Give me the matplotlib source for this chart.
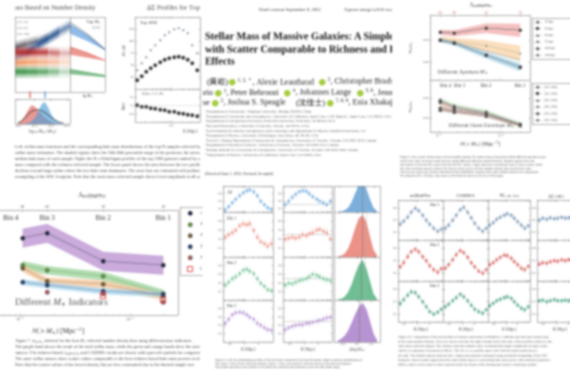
import io
import numpy as np
import matplotlib
matplotlib.use("Agg")
import matplotlib.pyplot as plt
from matplotlib.ticker import NullFormatter, NullLocator

# ---- number-density bins shared by the two scatter figures
N_BINS = [1.05e-5, 1.76e-5, 5.7e-5, 2.0e-4]
BIN_NAMES = ['Bin 4', 'Bin 3', 'Bin 2', 'Bin 1']
LAMBDA_TICKS = ['60', '40', '20', '10']

# sigma(log Mvir) for different M* indicators (bottom-left figure)
D_PURPLE = [0.617, 0.640, 0.507, 0.488]
D_GREEN = [0.488, 0.464, 0.436, 0.352]
D_ORANGE = [0.474, 0.412, 0.398, 0.340]
D_BLUE = [0.407, 0.393, 0.364, 0.350]
D_PINK = [0.360, 0.352, 0.312]          # bins 3..1
D_RED_OPEN = [0.342, 0.322]             # bins 2..1
D_ERR = [0.045, 0.02, 0.018, 0.014]
D_LABELS = [r'$\lambda_{\rm redM}$', r'$M_{\star,100}$', r'$M_{\star,[50,100]}$',
            r'$M_{\star,[50,150]}$', r'$M_{\star,\rm Max}$', r'CAMIRA']

# aperture / outer-envelope M* (top-right figure)
C_10KPC = [0.536, 0.532, 0.555, 0.545]
C_30KPC = [0.505, 0.495, 0.475, 0.440]
C_50KPC = [0.495, 0.490, 0.450, 0.410]
C_100KPC = [0.500, 0.486, 0.432, 0.377]
C_ERR_10 = [0.012, 0.014, 0.022, 0.030]
C_ERR_30 = [0.012, 0.016, 0.025, 0.035]
C_ERR_100 = [0.010, 0.010, 0.015, 0.018]
C_APER_LABELS = ['10 kpc', '30 kpc', '50 kpc', '75 kpc', '100 kpc', '150 kpc']
C_OUT = [[0.390, 0.360, 0.330, 0.270],
         [0.385, 0.355, 0.325, 0.268],
         [0.345, 0.335, 0.315, 0.265],
         [0.340, 0.330, 0.310, 0.262],
         [0.350, 0.340, 0.320, 0.270],
         [0.380, 0.350, 0.320, 0.268]]
C_OUT_LABELS = ['[10, 100]', '[20, 100]', '[30, 100]', '[40, 100]', '[50, 100]', '[50, 150]']

# top-left page: fuzzy SMF bands, halo-mass histograms, Delta Sigma profiles
BAND_X = [0.0, 0.2, 0.4, 0.6, 0.8, 1.0]
BAND_GRAY = [0.60, 0.64, 0.68, 0.72, 0.79, 0.85]
BAND_BLUE = [0.45, 0.53, 0.63, 0.72, 0.81, 0.89]
BAND_RED = [0.53, 0.53, 0.53, 0.53, 0.52, 0.52]
BAND_ORANGE = [0.39, 0.40, 0.40, 0.40, 0.40, 0.40]
BAND_GREEN = [0.27, 0.27, 0.27, 0.27, 0.27, 0.27]
WEDGE_X = [0.0, 0.5, 1.0]
WEDGE_BLUE = ([0.90, 0.75, 0.56], [0.78, 0.68, 0.56])
WEDGE_RED = ([0.60, 0.52, 0.42], [0.50, 0.46, 0.42])
WEDGE_GREEN = ([0.30, 0.26, 0.22], [0.24, 0.22, 0.20])
WEDGE_TOP = [0.93, 0.77, 0.57]
HIST_MASS = [11.0, 11.1, 11.2, 11.3, 11.4, 11.5, 11.6, 11.7, 11.8, 11.9, 12.0, 12.1, 12.2, 12.3, 12.4]
HIST_RED = [0.05, 0.15, 0.35, 0.60, 0.80, 0.75, 0.60, 0.45, 0.30, 0.20, 0.12, 0.06, 0.03, 0.01, 0.0]
HIST_BLUE = [0.0, 0.01, 0.03, 0.06, 0.12, 0.25, 0.50, 0.80, 0.95, 0.75, 0.45, 0.22, 0.10, 0.04, 0.01]
HIST_ALL = [0.05, 0.12, 0.25, 0.40, 0.52, 0.58, 0.60, 0.58, 0.50, 0.40, 0.30, 0.20, 0.12, 0.06, 0.03]
HIST_PEAKS = [11.36, 11.83]
DS_R = [0.12, 0.16, 0.21, 0.28, 0.37, 0.50, 0.66, 0.88, 1.17, 1.55, 2.07, 2.75, 3.66, 4.87]
DS_ALL = [40, 54, 67, 81, 92, 102, 112, 119, 125, 127, 123, 117, 92, 75]
DS_TOP = [19, 27, 36, 44, 50, 56, 61, 65, 67, 68, 66, 61, 54, 40]
DS_RATIO = [1.01, 0.98, 0.97, 0.94, 0.93, 0.90, 0.89, 0.86, 0.85, 0.82, 0.81, 0.78, 0.77, 0.74]

# bottom-middle grid: profiles per bin and posterior histograms
E_R = [0.2, 0.27, 0.36, 0.48, 0.64, 0.86, 1.15, 1.5, 2.0, 2.7, 3.6, 4.8, 6.4, 8.5]
E_LEFT = [[0.35, 0.45, 0.55, 0.65, 0.75, 0.82, 0.88, 0.90, 0.85, 0.75, 0.60, 0.50, 0.42, 0.38],
          [0.45, 0.50, 0.55, 0.60, 0.70, 0.74, 0.72, 0.75, 0.60, 0.45, 0.35, 0.30, 0.25, 0.30],
          [0.35, 0.42, 0.50, 0.55, 0.62, 0.70, 0.72, 0.68, 0.62, 0.50, 0.40, 0.32, 0.25, 0.22],
          [0.45, 0.55, 0.65, 0.70, 0.72, 0.70, 0.65, 0.60, 0.55, 0.45, 0.40, 0.35, 0.30, 0.28]]
E_RIGHT = [[0.50, 0.60, 0.70, 0.78, 0.85, 0.88, 0.86, 0.80, 0.72, 0.65, 0.60, 0.55, 0.50, 0.60],
           [0.40, 0.42, 0.45, 0.42, 0.44, 0.50, 0.48, 0.52, 0.55, 0.60, 0.62, 0.58, 0.55, 0.40],
           [0.35, 0.40, 0.38, 0.42, 0.45, 0.48, 0.50, 0.55, 0.60, 0.58, 0.55, 0.50, 0.48, 0.45],
           [0.30, 0.35, 0.38, 0.40, 0.42, 0.42, 0.45, 0.45, 0.48, 0.50, 0.52, 0.55, 0.58, 0.60]]
E_HIST_X = [-0.55, -0.45, -0.35, -0.25, -0.15, -0.05, 0.05, 0.15, 0.25, 0.35, 0.45, 0.55]
E_HIST = [[0.0, 0.02, 0.06, 0.15, 0.35, 0.65, 0.92, 1.00, 0.80, 0.45, 0.15, 0.03],
          [0.01, 0.03, 0.08, 0.20, 0.42, 0.70, 0.93, 1.00, 0.85, 0.50, 0.18, 0.04],
          [0.01, 0.03, 0.08, 0.20, 0.40, 0.65, 0.88, 1.00, 0.80, 0.48, 0.16, 0.03],
          [0.03, 0.08, 0.16, 0.30, 0.50, 0.72, 0.90, 1.00, 0.85, 0.55, 0.22, 0.05]]
E_HIST_LINE = [0.15, 0.15, 0.12, 0.05]
E_ROW_LABELS = ['All', 'Bin 1', 'Bin 2', 'Bin 3']

# bottom-right grid: Delta Sigma residual patterns for three bins and four proxies
F_R = [0.2, 0.28, 0.4, 0.56, 0.8, 1.1, 1.6, 2.2, 3.1, 4.4, 6.2, 8.7]
F_BLUE = [[0.40, 0.48, 0.58, 0.70, 0.80, 0.74, 0.62, 0.50, 0.40, 0.30, 0.22, 0.28],
          [0.30, 0.38, 0.50, 0.62, 0.76, 0.82, 0.70, 0.56, 0.42, 0.30, 0.22, 0.30],
          [0.38, 0.44, 0.52, 0.58, 0.62, 0.66, 0.62, 0.55, 0.46, 0.38, 0.30, 0.36],
          [0.50, 0.55, 0.52, 0.56, 0.54, 0.55, 0.57, 0.55, 0.56, 0.54, 0.55, 0.58]]
F_RED = [[0.35, 0.45, 0.60, 0.72, 0.78, 0.72, 0.60, 0.50, 0.38, 0.28, 0.22, 0.30],
         [0.32, 0.40, 0.52, 0.65, 0.75, 0.70, 0.58, 0.45, 0.35, 0.25, 0.20, 0.28],
         [0.40, 0.45, 0.52, 0.58, 0.64, 0.62, 0.56, 0.48, 0.40, 0.32, 0.28, 0.36],
         [0.42, 0.45, 0.44, 0.48, 0.50, 0.49, 0.52, 0.50, 0.53, 0.52, 0.55, 0.54]]
F_GREEN = [[0.45, 0.55, 0.66, 0.74, 0.72, 0.62, 0.50, 0.38, 0.26, 0.20, 0.24, 0.32],
           [0.38, 0.44, 0.52, 0.60, 0.68, 0.62, 0.52, 0.42, 0.32, 0.26, 0.22, 0.30],
           [0.40, 0.46, 0.52, 0.56, 0.60, 0.62, 0.58, 0.50, 0.42, 0.34, 0.30, 0.38],
           [0.52, 0.54, 0.50, 0.53, 0.55, 0.53, 0.52, 0.54, 0.52, 0.55, 0.53, 0.54]]
F_TITLES = ['redMaPPer', 'CAMIRA', r'$M_{\star,[50,100]}$', r'$\Delta\Sigma$ ratio']

TITLE_LINES = ['Stellar Mass of Massive Galaxies: A Simple Tracer of Halo Mass',
               'with Scatter Comparable to Richness and Reduced Projection',
               'Effects']
AFFILIATIONS = [
    r'$^1$Department of Astronomy, Tsinghua University, Beijing 100084, China',
    r'$^2$Department of Astronomy and Astrophysics, University of California, Santa Cruz, 1156 High St., Santa Cruz, CA 95064, USA',
    r'$^3$Department of Astrophysical Sciences, Princeton University, Princeton, NJ 08544, USA',
    r'$^4$Steward Observatory, University of Arizona, Tucson, AZ 85721, USA',
    r'$^5$Kavli Institute for Particle Astrophysics and Cosmology and Department of Physics, Stanford University, CA',
    r'$^6$Department of Physics, University of Michigan, Ann Arbor, MI 48109, USA',
    r'$^7$David A. Dunlap Department of Astronomy & Astrophysics, University of Toronto, Toronto, ON M5S 3H4, Canada',
    r'$^8$Department of Statistical Sciences, University of Toronto, Toronto, ON M5S 3G3, Canada',
    r'$^9$Dunlap Institute for Astronomy & Astrophysics, University of Toronto, Toronto, ON M5S 3H4, Canada',
    r'$^{10}$Department of Physics, University of California, Santa Cruz, CA 95064, USA',
]

CAP_A = [
    'Left: stellar mass functions and the corresponding halo mass distributions of the top-N samples selected by different',
    'stellar mass estimators. The shaded regions show the 16th-84th percentile range of the posterior; the arrows mark the',
    'median halo mass of each sample. Right: the R x DeltaSigma profiles of the top 1000 galaxies ranked by outer stellar',
    'mass compared with the richness-selected sample. The lower panel shows the ratio between the two profiles, which',
    'declines toward large radius where the two-halo term dominates. The error bars are estimated with jackknife',
    'resampling of the HSC footprint. Note that the outer mass selected sample shows lower amplitude at all radii.',
]
CAP_C = [
    'Figure 6. The scatter of halo mass at fixed number density for stellar masses measured within different apertures (top)',
    'and for the outer envelope stellar masses within different elliptical annuli (bottom). Shaded regions show the',
    'uncertainty of the best-fit scatter from the MCMC chains. Larger apertures consistently lead to lower scatter, while',
    'the outer envelope masses achieve the lowest scatter across all four number density bins used in this work.',
    'The top axis shows the richness threshold of the redMaPPer catalog at the same number density for comparison.',
    'We adopt the [50, 100] kpc outer mass as the fiducial choice in the rest of the paper.',
]
CAP_D = [
    r'Figure 7. $\sigma_{\log M_{\rm vir}}$ inferred for the four $M_{\star}$-selected number density bins using different mass indicators.',
    r'The purple band shows the result of the total stellar mass, while the green and orange bands show the outer envelope',
    r'masses. The richness-based $\lambda_{\rm redMaPPer}$ and CAMIRA results are shown with open red symbols for comparison.',
    r'The outer stellar masses show scatter values comparable to the best richness-based halo mass proxies at all densities.',
    r'Note that the scatter values of the lowest density bin are less constrained due to the limited sample size.',
]
CAP_E = [
    'Figure 9. Left: the DeltaSigma profiles of the four bins compared to the best-fit model. Right: posterior distributions of',
    'the scatter; vertical lines mark the median values. Colors correspond to the bins shown in the previous figures.',
    'The model reproduces the profiles well within the statistical uncertainties across the full radial range.',
]
CAP_F = [
    r'Figure 10. Comparison of the $\Delta\Sigma$ profiles of clusters selected by redMaPPer, CAMIRA and the outer stellar mass',
    r'at the same number density. Each row shows one bin; the right column shows the ratio of the profiles relative to the',
    r'outer mass selected sample. The richness selected samples show systematically higher amplitude on large scales',
    r'which is a signature of projection effects. The $M_{\star,[50,100]}$ profiles agree well with the model prediction at',
    r'all radii. The shaded regions indicate the 1-sigma uncertainties estimated using jackknife resampling of the HSC',
    r'footprint. These results suggest that the outer stellar mass is a promising halo mass proxy with reduced projection',
    r'effects, and it can be used to select massive halos for future weak lensing and cluster cosmology studies.',
]

plt.rcParams.update({
    'font.family': ['Liberation Serif', 'Noto Sans CJK SC', 'DejaVu Sans'],
    'mathtext.fontset': 'stix',
    'axes.linewidth': 0.35,
    'axes.edgecolor': '#666666',
    'xtick.direction': 'in', 'ytick.direction': 'in',
    'xtick.top': True, 'ytick.right': True,
    'xtick.major.size': 1.2, 'ytick.major.size': 1.2,
    'xtick.minor.size': 0.6, 'ytick.minor.size': 0.6,
    'xtick.major.width': 0.3, 'ytick.major.width': 0.3,
    'xtick.minor.width': 0.25, 'ytick.minor.width': 0.25,
    'xtick.labelsize': 2.6, 'ytick.labelsize': 2.6,
    'xtick.major.pad': 0.8, 'ytick.major.pad': 0.8,
    'xtick.color': '#666666', 'ytick.color': '#666666',
    'axes.labelcolor': '#333333',
})

W, H = 570, 370
fig = plt.figure(figsize=(W / 100, H / 100), dpi=100)
fig.patch.set_facecolor('white')


def box(x, y, w, h):
    # axes placed in pixel coordinates measured from the top-left corner
    return fig.add_axes([x / W, 1 - (y + h) / H, w / W, h / H])


def page(x0, y0, x1, y1):
    ax = box(x0, y0, x1 - x0, y1 - y0)
    ax.set_xlim(x0, x1)
    ax.set_ylim(y1, y0)
    ax.axis('off')
    ax.set_zorder(-1)
    return ax


def put(ax, x, y, s, size=3.0, **kw):
    kw.setdefault('va', 'center')
    kw.setdefault('color', '#3a3a3a')
    ax.text(x, y, s, fontsize=size, clip_on=True, **kw)


def para(ax, x, y, rows, dy, size):
    for i, s in enumerate(rows):
        put(ax, x, y + i * dy, s, size, color='#4a4a4a')


def bare(ax):
    ax.set_xticks([])
    ax.set_yticks([])


# ================= top-left page =================
pa = page(0, 0, 200, 185)
put(pa, 15, 8, 'ass Based on Number Density', 4.8)
put(pa, 146, 8, r'$\Delta\Sigma$ Profiles for Top $M_{\star}$', 4.8)

ax = box(15, 17, 55, 75)
ax.set_xlim(0, 1)
ax.set_ylim(0, 1)
bx = np.array(BAND_X)
bands = [(BAND_GRAY, [0.6, 0.5, 0.3, 0.12, 0.05, 0.0], '#2d2d3a'),
         (BAND_BLUE, [0.3, 0.6, 0.95, 0.85, 0.5, 0.2], '#1f4f8f'),
         (BAND_RED, [0.95, 0.9, 0.8, 0.5, 0.25, 0.1], '#b22222'),
         (BAND_ORANGE, [0.8, 0.7, 0.55, 0.4, 0.22, 0.08], '#f08a4b'),
         (BAND_GREEN, [0.9, 0.8, 0.65, 0.45, 0.22, 0.08], '#2e8b3a')]
for yc, fade, col in bands:
    yc = np.array(yc)
    for i in range(len(bx) - 1):
        for hw, a in ((0.08, 0.3), (0.05, 0.45), (0.022, 0.7)):
            ax.fill_between(bx[i:i + 2], yc[i:i + 2] - hw, yc[i:i + 2] + hw,
                            color=col, alpha=a * fade[i], lw=0)
for j, s in enumerate(['[10, 30]', '[30, 50]', '[50, 100]']):
    put(ax, 0.04, 0.93 - j * 0.08, s, 2.4, transform=ax.transAxes, color='#777')
bare(ax)

ax = box(70, 17, 35, 75)
ax.set_xlim(0, 1)
ax.set_ylim(0, 1)
for (up, lo), col in zip([WEDGE_BLUE, WEDGE_RED, WEDGE_GREEN], ['#4a90d9', '#e0554a', '#3a9a4a']):
    ax.fill_between(WEDGE_X, lo, up, color=col, alpha=0.6, lw=0)
    ax.plot(WEDGE_X, up, color=col, lw=0.5)
ax.plot(WEDGE_X, WEDGE_TOP, color='#555', lw=0.4)
put(ax, 0.88, 0.93, r'Top $M_{\star}$', 3.2, ha='right', transform=ax.transAxes)
put(ax, 0.88, 0.86, '(1000)', 2.4, ha='right', transform=ax.transAxes, color='#777')
bare(ax)
put(pa, 88, 96, r'lg $M_{\star}$', 3.0, ha='center')

ax = box(15, 99, 55, 25)
ax.fill_between(HIST_MASS, HIST_RED, color='#e0615a', alpha=0.65, lw=0)
ax.fill_between(HIST_MASS, HIST_BLUE, color='#4f9fd8', alpha=0.65, lw=0)
ax.plot(HIST_MASS, HIST_ALL, color='#333', lw=0.5)
for m, col in zip(HIST_PEAKS, ['#d9453c', '#3f8fd0']):
    ax.plot([m, m], [1.12, 1.35], color=col, lw=0.8, clip_on=False)
ax.set_xlim(10.9, 12.6)
ax.set_ylim(0, 1.05)
ax.set_xticks([11.0, 11.5, 12.0, 12.5])
ax.set_yticks([])
ax.set_xlabel(r'$\log_{10} M_{\rm vir}\ [M_{\odot}]$', fontsize=3.2, labelpad=0.8)

ax = box(135, 17, 65, 72)
ax.set_xscale('log')
ax.set_xlim(0.106, 5.95)
ax.set_ylim(0, 150)
ax.scatter(DS_R, DS_ALL, s=2.5, color='#8796ab', lw=0)
ax.scatter(DS_R, DS_TOP, s=7, color='#2b2b2b', edgecolor='#999', lw=0.3)
ax.set_yticks([25, 50, 75, 100, 125])
ax.xaxis.set_major_formatter(NullFormatter())
ax.xaxis.set_minor_formatter(NullFormatter())
put(ax, 0.08, 0.92, 'Top 1000', 3.2, transform=ax.transAxes)
put(pa, 124, 50, r'$R\times\Delta\Sigma$', 2.8, rotation=90, ha='center')

ax = box(135, 89, 65, 33)
ax.set_xscale('log')
ax.set_xlim(0.106, 5.95)
ax.set_ylim(0.6, 1.4)
ax.axhline(1.0, color='#bbb', lw=0.3, ls='--')
ax.scatter(DS_R, DS_RATIO, s=7, color='#2b2b2b', edgecolor='#999', lw=0.3)
ax.set_yticks([0.8, 1.0, 1.2])
ax.set_xlabel('R [Mpc]', fontsize=3.0, labelpad=0.8)
ax.xaxis.set_label_coords(0.85, -0.22)
put(ax, 0.1, 0.86, r'Ratio: $\lambda$ vs. $M_{\star}$', 2.6, transform=ax.transAxes)
put(pa, 124, 106, 'Ratio', 2.8, rotation=90, ha='center')

para(pa, 15, 147, CAP_A, 6, 3.1)

# ================= title page =================
pb = page(203, 0, 392, 185)
put(pb, 290, 10, 'Draft version September 8, 2022', 3.4, ha='center')
put(pb, 344, 10, 'Typeset using LaTeX twocolumn style in AASTeX63', 3.4)
for y, s in zip([37, 50, 62], TITLE_LINES):
    put(pb, 205, y, s, 7.4, weight='bold', color='#151515')

authors = [(82, 228, '(黄崧)', 'right'), (82, 237, r'$^{1,2,*}$, Alexie Leauthaud', 'left'),
           (82, 327, r'$^{2}$, Christopher Bradshaw', 'left'),
           (93, 213, 'Hearin', 'right'), (93, 223, r'$^{3}$, Peter Behroozi', 'left'),
           (93, 292, r'$^{4}$, Johannes Lange', 'left'), (93, 365, r'$^{5,6}$, Jenny Greene', 'left'),
           (103, 210, 'DeRose', 'right'), (103, 220, r'$^{2}$, Joshua S. Speagle', 'left'),
           (103, 325, '(沈佳士)', 'right'),
           (103, 335, r'$^{7,8,9}$, Enia Xhakaj', 'left')]
for y, x, s, ha in authors:
    put(pb, x, y, s, 5.8, ha=ha, color='#1a1a1a')
orcid_x = [232, 322, 218, 287, 360, 215, 330]
orcid_y = [82, 82, 93, 93, 93, 103, 103]
pb.scatter(orcid_x, orcid_y, s=18, color='#a6ce39', edgecolor='#8cb82b', lw=0.3, zorder=3, clip_on=True)
para(pb, 205, 112, AFFILIATIONS, 4.8, 2.6)
put(pb, 205, 174, '(Received June 1, 2022; Revised; Accepted)', 2.8)

# ================= top-right figure =================
pc = page(395, 0, 570, 185)
put(pc, 481, 5, r'$\Lambda_{\rm redMaPPer}$', 4.2, ha='center')
put(pc, 411, 47, r'$\sigma_{\log M_{\rm vir}}$', 3.2, rotation=90, ha='center')
put(pc, 411, 106, r'$\sigma_{\log M_{\rm vir}}$', 3.2, rotation=90, ha='center')

ct = box(430, 15, 100, 65)
cb = box(430, 80, 100, 52)
for a in (ct, cb):
    a.set_xscale('log')
    a.set_xlim(7.2e-6, 2.9e-4)
    a.tick_params(which='both', top=False)
ct.set_ylim(0.318, 0.614)
cb.set_ylim(0.23, 0.49)
for vals, err, col in [(C_10KPC, C_ERR_10, '#f2a0a0'), (C_30KPC, C_ERR_30, '#f9cf9c'),
                       (C_100KPC, C_ERR_100, '#9ccbe2')]:
    v, e = np.array(vals), np.array(err)
    ct.fill_between(N_BINS, v - e, v + e, color=col, alpha=0.65, lw=0)
ct.plot(N_BINS, C_50KPC, color='#999', lw=0.4)
ct.plot(N_BINS, C_10KPC, color='#555', lw=0.4, marker='o', ms=2.2, mfc='#333', mec='#777', mew=0.3)
ct.plot(N_BINS, C_30KPC, color='#aa8', lw=0.3, marker='^', ms=1.6, mfc='#776', mew=0)
ct.plot(N_BINS, C_100KPC, color='#456', lw=0.4, marker='s', ms=2.0, mfc='#333', mec='#777', mew=0.3)
ct.set_yticks([0.4, 0.5])
ct.set_yticklabels(['0.40', '0.50'])
ct.xaxis.set_major_formatter(NullFormatter())
ct.xaxis.set_minor_formatter(NullFormatter())
put(ct, 0.07, 0.12, r'Different Aperture $M_{\star}$', 4.0, transform=ct.transAxes, color='#444')
top = ct.twiny()
top.set_xscale('log')
top.set_xlim(ct.get_xlim())
top.set_xticks(N_BINS)
top.set_xticklabels(LAMBDA_TICKS)
top.xaxis.set_minor_locator(NullLocator())
top.tick_params(labelsize=2.6, pad=0.8, colors='#c0392b')

cb.fill_between(N_BINS, np.array(C_OUT[0]) + 0.012, np.array(C_OUT[2]) - 0.012, color='#cfe9c8', alpha=0.7, lw=0)
cb.fill_between(N_BINS, np.array(C_OUT[5]) + 0.006, np.array(C_OUT[3]) - 0.006, color='#f1c4c0', alpha=0.7, lw=0)
for k, vals in enumerate(C_OUT):
    cb.plot(N_BINS, vals, color='#777', lw=0.3, marker='s' if k % 2 else 'o', ms=2.2, mfc='#444', mec='#888', mew=0.3)
cb.set_yticks([0.3, 0.4])
cb.set_yticklabels(['0.30', '0.40'])
cb.set_xticks([1e-5, 1e-4])
cb.set_xticklabels([r'$10^{-5}$', r'$10^{-4}$'])
cb.xaxis.set_minor_formatter(NullFormatter())
put(cb, N_BINS[0], 0.46, 'Bin 4', 3.6, transform=cb.transData, ha='left')
put(cb, N_BINS[1], 0.46, 'Bin 3', 3.6, transform=cb.transData, ha='left')
put(cb, N_BINS[2], 0.46, 'Bin 2', 3.6, transform=cb.transData, ha='center')
put(cb, N_BINS[3], 0.46, 'Bin 1', 3.6, transform=cb.transData, ha='center')
put(cb, 0.18, 0.12, r'Different Outer Envelope $M_{\star}$', 4.0, transform=cb.transAxes, color='#444')
cb.set_xlabel(r'$N(>M_{\star})\ [{\rm Mpc}^{-3}]$', fontsize=4.0, labelpad=1)

for y0, labels in [(18, C_APER_LABELS), (83, C_OUT_LABELS)]:
    lg = box(532, y0, 42, 41)
    lg.set_xlim(0, 1)
    lg.set_ylim(1, 0)
    bare(lg)
    for i, s in enumerate(labels):
        yy = (i + 0.6) / 6.2
        lg.plot([0.05, 0.22], [yy, yy], color='#888', lw=0.3)
        lg.scatter([0.135], [yy], s=4, color='#444', marker='os^vDp'[i], lw=0)
        put(lg, 0.3, yy, s, 2.4)
para(pc, 400, 157, CAP_C, 3.8, 2.2)

# ================= bottom-left figure =================
pd_ = page(0, 185, 200, 370)
put(pd_, 92, 195, r'$\Lambda_{\rm redMaPPer}$', 5.2, ha='center')
ax = box(-40, 210, 218, 105)
ax.set_xscale('log')
ax.set_xlim(2.85e-6, 2.73e-4)
ax.set_ylim(0.25, 0.75)
ax.tick_params(which='both', top=False)
d_bands = [(D_PURPLE, D_ERR[0], '#b98fd0', '#1c2340'), (D_GREEN, D_ERR[1], '#9ad39a', '#5f8f3e'),
           (D_ORANGE, D_ERR[2], '#f7c89b', '#6b5a2e'), (D_BLUE, D_ERR[3], '#a9d6ee', '#1f3a6b')]
for vals, hw, fc, mc in d_bands:
    v = np.array(vals)
    ax.fill_between(N_BINS, v - hw, v + hw, color=fc, alpha=0.75, lw=0)
    ax.plot(N_BINS, v, color=mc, lw=0.5, alpha=0.5)
    ax.scatter(N_BINS, v, s=10, color=mc, edgecolor='#666', lw=0.3, zorder=3)
ax.scatter(N_BINS[1:], D_PINK, s=10, color='#a0525a', edgecolor='#666', lw=0.3, zorder=3)
ax.scatter(N_BINS[2:], D_RED_OPEN, s=14, facecolor='none', edgecolor='#e03030', marker='s', lw=0.6, zorder=3)
ax.set_xticks([1e-5, 1e-4])
ax.set_xticklabels([r'$10^{-5}$', r'$10^{-4}$'])
ax.xaxis.set_minor_formatter(NullFormatter())
ax.tick_params(labelsize=3.0)
ax.set_yticks([])
ax.set_xlabel(r'$N(>M_{\star})\ [{\rm Mpc}^{-3}]$', fontsize=5.2, labelpad=2)
ax.xaxis.set_label_coords(0.45, -0.11)
for n, s, ha, dx in zip(N_BINS, BIN_NAMES, ['right', 'center', 'center', 'center'], [-1, 0, 0, 0]):
    ax.annotate(s, (n, 0.71), xytext=(dx * 3, 0), textcoords='offset points',
                fontsize=5.0, ha=ha, va='center', color='#333')
put(ax, 0.25, 0.12, r'Different $M_{\star}$ Indicators', 7.0, transform=ax.transAxes, color='#555')
top = ax.twiny()
top.set_xscale('log')
top.set_xlim(ax.get_xlim())
top.set_xticks(N_BINS)
top.set_xticklabels(LAMBDA_TICKS)
top.xaxis.set_minor_locator(NullLocator())
top.tick_params(labelsize=3.0, pad=0.8)

lg = box(180, 207, 22, 68)
lg.set_xlim(0, 1)
lg.set_ylim(1, 0)
bare(lg)
lg.spines['right'].set_visible(False)
leg_colors = ['#1c2340', '#5f8f3e', '#6b5a2e', '#1f3a6b', '#a0525a', 'none']
for i, (c, s) in enumerate(zip(leg_colors, D_LABELS)):
    yy = (i + 0.55) / 6.1
    if c == 'none':
        lg.scatter([0.45], [yy], s=12, facecolor='none', edgecolor='#e03030', marker='s', lw=0.6)
    else:
        lg.scatter([0.45], [yy], s=10, color=c, edgecolor='#666', lw=0.3)
    put(lg, 0.9, yy, s, 3.0)
para(pd_, 15, 341, CAP_D, 6, 3.1)

# ================= bottom-middle grid =================
pe = page(203, 185, 388, 370)
e_cols = ['#7fb2e0', '#ef9a90', '#7cc79c', '#bb9ad6']
e_fill = ['#5b9bd5', '#e8776b', '#4caf7a', '#a678c8']
e_rows = [(186, 26), (212, 45), (257, 43), (300, 42)]
for r, (y0, h) in enumerate(e_rows):
    last = r == len(e_rows) - 1
    for c, (x0, w) in enumerate([(223, 50), (283, 49)]):
        a = box(x0, y0, w, h)
        vals = (E_LEFT if c == 0 else E_RIGHT)[r]
        a.errorbar(E_R, vals, yerr=0.08, fmt='o', ms=1.0, color=e_cols[r], elinewidth=0.3, capsize=0)
        a.plot(E_R, vals, color=e_cols[r], lw=0.3, alpha=0.5)
        if c == 1:
            a.axhline(0.5, color='#aaa', lw=0.3)
        a.set_xscale('log')
        a.set_xlim(0.17, 10)
        a.set_ylim(0.3 if r == 0 else 0.0, 1.0)
        a.set_yticks([0.2, 0.4, 0.6, 0.8] if r else [0.4, 0.6, 0.8])
        a.tick_params(labelsize=2.3)
        a.xaxis.set_minor_formatter(NullFormatter())
        if last:
            a.set_xticks([0.3, 1, 3])
            a.set_xticklabels(['0.3', '1', '3'])
            a.set_xlabel('R [Mpc]', fontsize=3.0, labelpad=0.5)
        else:
            a.xaxis.set_major_formatter(NullFormatter())
        if c == 0:
            put(a, 0.08, 0.86 if r else 0.75, E_ROW_LABELS[r], 3.0, transform=a.transAxes)
    a = box(334, y0, 46, h)
    a.fill_between(E_HIST_X, E_HIST[r], color=e_fill[r], alpha=0.8, lw=0.4)
    a.axvline(E_HIST_LINE[r], color='#777', lw=0.4)
    a.axvline(E_HIST_LINE[r] + 0.1, color='#aaa', lw=0.3, ls='--')
    a.set_xlim(-0.65, 0.65)
    a.set_ylim(0, 1.08 if r else 0.9)
    a.set_yticks([])
    a.tick_params(labelsize=2.3)
    if last:
        a.set_xticks([-0.4, 0.0, 0.4])
        a.set_xlabel(r'$\Delta\log M_{\rm vir}$', fontsize=3.0, labelpad=0.5)
    else:
        a.xaxis.set_major_formatter(NullFormatter())
para(pe, 215, 360, CAP_E, 3.6, 2.2)

# ================= bottom-right grid =================
pf = page(388, 185, 570, 370)
f_cols = ['#86a2c0', '#e0716d', '#5faf92']
f_rows = [(200, 40), (240, 41), (281, 41)]
f_x = [(398, 45), (443, 45), (488, 42), (537, 45)]
for c, (x0, w) in enumerate(f_x):
    put(pf, x0 + w / 2 if c < 3 else 556, 196, F_TITLES[c], 3.4, ha='center')
for r, ((y0, h), rows, col) in enumerate(zip(f_rows, [F_BLUE, F_RED, F_GREEN], f_cols)):
    for c, (x0, w) in enumerate(f_x):
        a = box(x0, y0, w, h)
        a.errorbar(F_R, rows[c], yerr=0.07, fmt='o', ms=1.1, color=col, elinewidth=0.3, capsize=0)
        a.plot(F_R, rows[c], color='#666', lw=0.35, alpha=0.5)
        a.set_xscale('log')
        a.set_xlim(0.17, 10.5)
        a.set_ylim(0, 1)
        a.xaxis.set_minor_formatter(NullFormatter())
        a.tick_params(labelsize=2.3)
        a.set_yticks([0.2, 0.5, 0.8])
        if c not in (0, 3):
            a.yaxis.set_major_formatter(NullFormatter())
        if r == 2:
            a.set_xticks([0.3, 1, 3])
            a.set_xticklabels(['0.3', '1', '3'])
            a.set_xlabel('R [Mpc]', fontsize=3.0, labelpad=0.5)
        else:
            a.xaxis.set_major_formatter(NullFormatter())
        if c == 0:
            put(a, 0.92, 0.88, 'Bin %d' % (r + 1), 3.0, ha='right', transform=a.transAxes)
para(pf, 398, 337, CAP_F, 4.6, 2.4)

# render at double resolution, then average down and soften
buf = io.BytesIO()
fig.savefig(buf, format='png', dpi=200, facecolor='white')
buf.seek(0)
img = plt.imread(buf)[..., :3]
img = img[:2 * H, :2 * W]
img = img.reshape(H, 2, W, 2, 3).mean(axis=(1, 3))
k = (0.25, 0.5, 0.25)
for _ in range(2):
    p = np.pad(img, ((1, 1), (0, 0), (0, 0)), mode='edge')
    img = k[0] * p[:-2] + k[1] * p[1:-1] + k[2] * p[2:]
    p = np.pad(img, ((0, 0), (1, 1), (0, 0)), mode='edge')
    img = k[0] * p[:, :-2] + k[1] * p[:, 1:-1] + k[2] * p[:, 2:]
plt.imsave('out.png', np.clip(img, 0, 1))
